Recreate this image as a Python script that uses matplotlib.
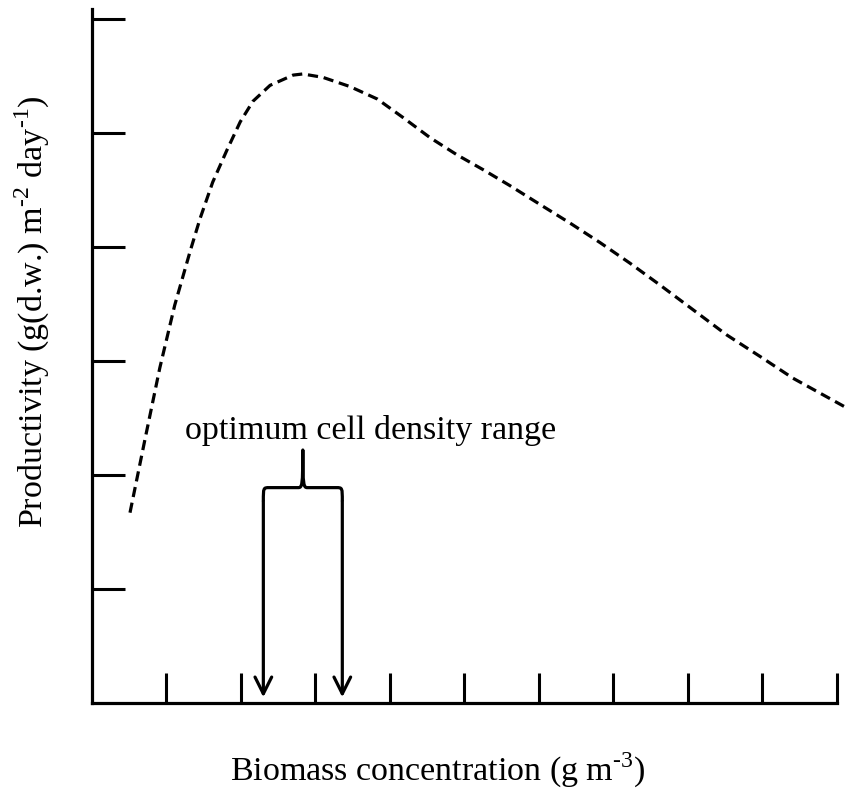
import matplotlib
matplotlib.use("Agg")
import matplotlib.pyplot as plt
from matplotlib.path import Path
from matplotlib.patches import PathPatch, FancyArrowPatch

plt.rcParams['font.family'] = ['Liberation Serif', 'DejaVu Serif']
plt.rcParams['mathtext.fontset'] = 'custom'
plt.rcParams['mathtext.rm'] = 'Liberation Serif'

# Data
biomass = [0.51, 0.71, 0.91, 1.11, 1.32, 1.45, 1.62, 1.81, 1.99, 2.16, 2.39, 2.70,
           2.83, 3.10, 3.46, 3.83, 4.17, 4.54, 4.90, 5.25, 5.61, 6.05, 6.42, 6.82,
           7.22, 7.62, 8.07, 8.52, 8.97, 9.41, 10.13]
productivity = [1.67, 2.31, 2.94, 3.49, 3.97, 4.25, 4.57, 4.85, 5.10, 5.28, 5.42, 5.51,
                5.52, 5.49, 5.41, 5.30, 5.14, 4.96, 4.81, 4.68, 4.54, 4.36, 4.21, 4.04,
                3.86, 3.67, 3.45, 3.23, 3.04, 2.85, 2.59]
x_ticks = [1, 2, 3, 4, 5, 6, 7, 8, 9, 10]
y_ticks = [1, 2, 3, 4, 5, 6]
optimum_range = [2.30, 3.36]
annotation_text = "optimum cell density range"

W, H = 847, 794
fig = plt.figure(figsize=(W / 100, H / 100), dpi=100)
ax = fig.add_axes([92 / W, (H - 703) / H, 755.4 / W, 694 / H])
ax.set_xlim(0, 10.14)
ax.set_ylim(0, 6.09)

for s in ['top', 'right']:
    ax.spines[s].set_visible(False)
for s in ['left', 'bottom']:
    ax.spines[s].set_linewidth(2.3)
    ax.spines[s].set_color('black')
ax.spines['bottom'].set_bounds(0, 10)

ax.set_xticks(x_ticks)
ax.set_yticks(y_ticks)
ax.set_xticklabels([])
ax.set_yticklabels([])
ax.tick_params(axis='x', direction='in', length=21.5, width=2.2, color='black')
ax.tick_params(axis='y', direction='in', length=24, width=2.2, color='black')

ax.plot(biomass, productivity, color='black', lw=2.3,
        linestyle=(0, (3.2, 1.8)), solid_capstyle='butt', clip_on=False)

# Brace
xl, xr = optimum_range
xc = (xl + xr) / 2
yb = 1.89
tip = 2.22
cx = 0.08
verts = [
    (xl, yb - 0.12), (xl, yb), (xl, yb), (xl + cx, yb),
    (xc - 0.06, yb),
    (xc - 0.01, yb), (xc, yb + 0.02), (xc, tip),
    (xc, yb + 0.02), (xc + 0.01, yb), (xc + 0.06, yb),
    (xr - cx, yb),
    (xr, yb), (xr, yb), (xr, yb - 0.12),
]
codes = [Path.MOVETO, Path.CURVE4, Path.CURVE4, Path.CURVE4,
         Path.LINETO,
         Path.CURVE4, Path.CURVE4, Path.CURVE4,
         Path.CURVE4, Path.CURVE4, Path.CURVE4,
         Path.LINETO,
         Path.CURVE4, Path.CURVE4, Path.CURVE4]
ax.add_patch(PathPatch(Path(verts, codes), fill=False, lw=2.3, color='black',
                       capstyle='butt', joinstyle='round'))

for xa in optimum_range:
    arr = FancyArrowPatch((xa, yb - 0.12), (xa, 0.05),
                          arrowstyle="->,head_length=0.6,head_width=0.3",
                          mutation_scale=20, lw=2.3, color='black',
                          shrinkA=0, shrinkB=0)
    ax.add_patch(arr)

ax.text(3.74, 2.39, annotation_text, ha='center', va='center', fontsize=24.5)

fig.text(438 / W, 1 - 770 / H, "Biomass concentration (g m$^{\\mathrm{\u20103}}$)",
         ha='center', va='center', fontsize=24.5)
fig.text(32 / W, 1 - 312 / H,
         "Productivity (g(d.w.) m$^{\\mathrm{\u20102}}$ day$^{\\mathrm{\u20101}}$)",
         ha='center', va='center', fontsize=24.5, rotation=90)

fig.savefig("out.png", dpi=100)
